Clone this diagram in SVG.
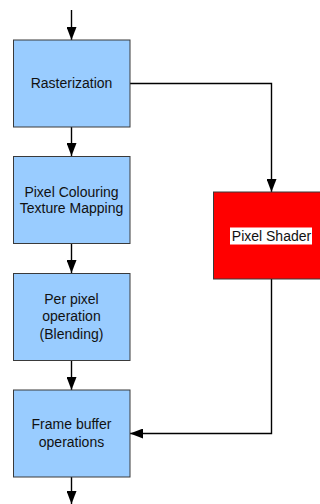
<svg xmlns="http://www.w3.org/2000/svg" width="320" height="504" viewBox="0 0 320 504">
<style>
.box{fill:#99ccff;stroke:#3a3a3a;stroke-width:1}
.red{fill:#ff0000;stroke:#3a3a3a;stroke-width:1}
.t{font-family:"Liberation Sans",Arial,sans-serif;font-size:14px;fill:#111;text-anchor:middle}
.c{fill:none;stroke:#000;stroke-width:1.4}
</style>
<defs>
<marker id="ah" viewBox="0 0 13 10" refX="13" refY="5" markerWidth="13" markerHeight="10" markerUnits="userSpaceOnUse" orient="auto">
<path d="M0,0L13,5L0,10Z" fill="#000"/>
</marker>
</defs>
<rect width="320" height="504" fill="#fff"/>
<g id="connectors">
<path class="c" d="M71.5,10V40" marker-end="url(#ah)"/>
<path class="c" d="M71.5,127V156" marker-end="url(#ah)"/>
<path class="c" d="M71.5,244V273" marker-end="url(#ah)"/>
<path class="c" d="M71.5,361V390" marker-end="url(#ah)"/>
<path class="c" d="M71.5,477V504" marker-end="url(#ah)"/>
<path class="c" d="M130,83.5H271.5V192" marker-end="url(#ah)"/>
<path class="c" d="M271.5,279V433.5H130" marker-end="url(#ah)"/>
</g>
<g id="rasterization">
<rect class="box" x="13.5" y="40" width="116.5" height="87"/>
<text class="t" x="71.5" y="88">Rasterization</text>
</g>
<g id="pixel-colouring">
<rect class="box" x="13.5" y="156.5" width="116.5" height="87"/>
<text class="t" x="71.5" y="196.5">Pixel Colouring</text>
<text class="t" x="71.5" y="213">Texture Mapping</text>
</g>
<g id="per-pixel">
<rect class="box" x="13.5" y="273.5" width="116.5" height="87"/>
<text class="t" x="71.5" y="304">Per pixel</text>
<text class="t" x="71.5" y="321">operation</text>
<text class="t" x="71.5" y="339">(Blending)</text>
</g>
<g id="frame-buffer">
<rect class="box" x="13.5" y="390" width="116.5" height="87"/>
<text class="t" x="71.5" y="429">Frame buffer</text>
<text class="t" x="71.5" y="447">operations</text>
</g>
<g id="pixel-shader">
<rect class="red" x="213.5" y="192" width="116.5" height="87"/>
<rect x="230" y="227.5" width="82" height="17" fill="#fff"/>
<text class="t" x="271.5" y="240.5">Pixel Shader</text>
</g>
</svg>
